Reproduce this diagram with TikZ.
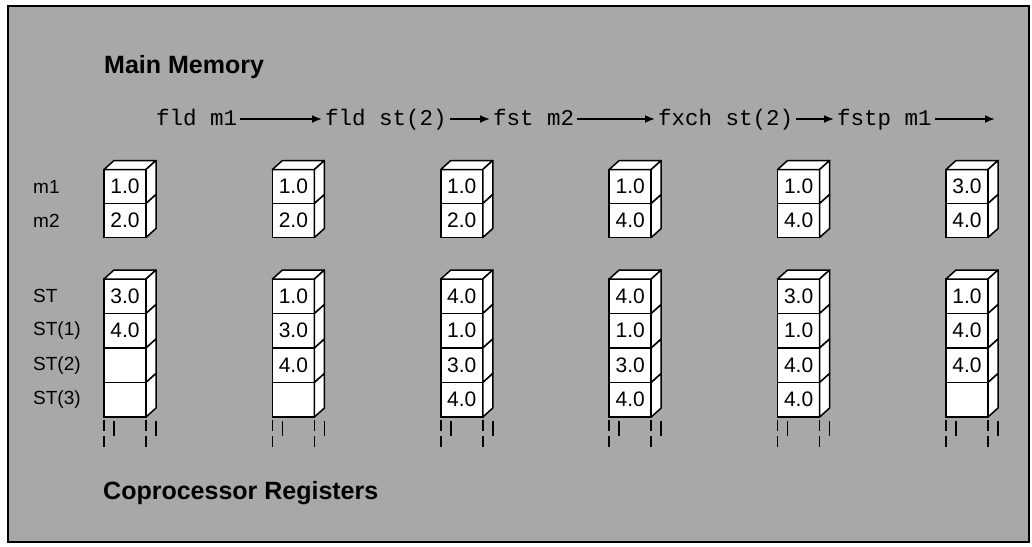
\documentclass[tikz,border=0pt]{standalone}
\usepackage{graphicx}
\usepackage{fontspec}
\setmainfont{Liberation Sans}
\setmonofont{Liberation Mono}
\usetikzlibrary{arrows.meta}
\definecolor{bggray}{gray}{0.66}
\begin{document}
\begin{tikzpicture}[x=1pt,y=-1pt,
  cellbase/.style={draw, fill=white, line width=1.5pt, minimum width=42pt,
    inner sep=0pt, outer sep=0pt, font=\fontsize{21}{21}\selectfont},
  mcell/.style={cellbase, minimum height=34pt},
  scell/.style={cellbase, minimum height=34.5pt},
  face/.style={draw, fill=white, line width=1.5pt, line join=round},
  leg/.style={draw, line width=1.5pt},
  lbl/.style={anchor=west, inner sep=0pt, font=\fontsize{19}{19}\selectfont},
  titletxt/.style={anchor=base west, inner sep=0pt, font=\fontsize{25}{25}\selectfont\bfseries},
  cmd/.style={anchor=base west, inner sep=0pt, font=\fontsize{22.5}{22.5}\selectfont\ttfamily},
  cmdarrow/.style={line width=1.8pt, -{Latex[length=10pt,width=8pt]}}
]
\useasboundingbox (0,0) rectangle (1032,546);
\fill[white] (0,0) rectangle (1032,546);
\draw[fill=bggray, line width=2.5pt] (8,6) rectangle (1029,542);

\node[titletxt] (mm) at (104,73) {Main Memory};
\node[titletxt] (cr) at (103,499) {Coprocessor Registers};

% commands
\node[cmd] (c1) at (156,125) {fld m1};
\node[cmd] (c2) at (325,125) {fld st(2)};
\node[cmd] (c3) at (493,125) {fst m2};
\node[cmd] (c4) at (658,125) {fxch st(2)};
\node[cmd] (c5) at (837,125) {fstp m1};
\coordinate (cend) at (995,125);
\draw[cmdarrow] ([xshift=3pt,yshift=6pt]c1.base east) -- ([xshift=-3pt,yshift=6pt]c2.base west);
\draw[cmdarrow] ([xshift=3pt,yshift=6pt]c2.base east) -- ([xshift=-3pt,yshift=6pt]c3.base west);
\draw[cmdarrow] ([xshift=3pt,yshift=6pt]c3.base east) -- ([xshift=-3pt,yshift=6pt]c4.base west);
\draw[cmdarrow] ([xshift=3pt,yshift=6pt]c4.base east) -- ([xshift=-3pt,yshift=6pt]c5.base west);
\draw[cmdarrow] ([xshift=3pt,yshift=6pt]c5.base east) -- ([yshift=6pt]cend);

% row labels
\node[lbl] (lm1) at (33,186.5) {m1};
\node[lbl] (lm2) at (33,220.5) {m2};
\node[lbl] (ls0) at (33,296.25) {ST};
\node[lbl] (ls1) at (33,330.75) {ST(1)};
\node[lbl] (ls2) at (33,365.25) {ST(2)};
\node[lbl] (ls3) at (33,399.75) {ST(3)};

\foreach \i/\ma/\mb/\sa/\sb/\sc/\sd in {
  0/1.0/2.0/3.0/4.0/{}/{},
  1/1.0/2.0/1.0/3.0/4.0/{},
  2/1.0/2.0/4.0/1.0/3.0/4.0,
  3/1.0/4.0/4.0/1.0/3.0/4.0,
  4/1.0/4.0/3.0/1.0/4.0/4.0,
  5/3.0/4.0/1.0/4.0/4.0/{}} {
  \pgfmathsetmacro\xl{104+168.4*\i}
  \pgfmathsetmacro\xc{\xl+21}
  % memory stack
  \node[mcell] (ma-\i) at (\xc,186.5) {\ma};
  \node[mcell] (mb-\i) at (\xc,220.5) {\mb};
  \draw[face] (ma-\i.north west) -- ++(10,-9) -- ++(42,0) -- (ma-\i.north east) -- cycle;
  \draw[face] (ma-\i.north east) -- ++(10,-9) -- ++(0,34) -- (ma-\i.south east) -- cycle;
  \draw[face] (mb-\i.north east) -- ++(10,-9) -- ++(0,34) -- (mb-\i.south east) -- cycle;
  % register stack
  \node[scell] (sa-\i) at (\xc,296.25) {\sa};
  \node[scell] (sb-\i) at (\xc,330.75) {\sb};
  \node[scell] (sc-\i) at (\xc,365.25) {\sc};
  \node[scell] (sd-\i) at (\xc,399.75) {\sd};
  \draw[face] (sa-\i.north west) -- ++(10,-9) -- ++(42,0) -- (sa-\i.north east) -- cycle;
  \foreach \n in {sa,sb,sc,sd} {
    \draw[face] (\n-\i.north east) -- ++(10,-9) -- ++(0,34.5) -- (\n-\i.south east) -- cycle;
  }
  % broken legs below the register stack
  \draw[leg] ([yshift=-3pt]sd-\i.south west) -- ++(0,11) ++(0,5) -- ++(0,11);
  \draw[leg] ([yshift=-3pt]sd-\i.south east) -- ++(0,11) ++(0,5) -- ++(0,11);
  \draw[leg] ([xshift=10pt,yshift=-4pt]sd-\i.south west) -- ++(0,15);
  \draw[leg] ([xshift=10pt,yshift=-4pt]sd-\i.south east) -- ++(0,15);
}
\end{tikzpicture}
\end{document}
